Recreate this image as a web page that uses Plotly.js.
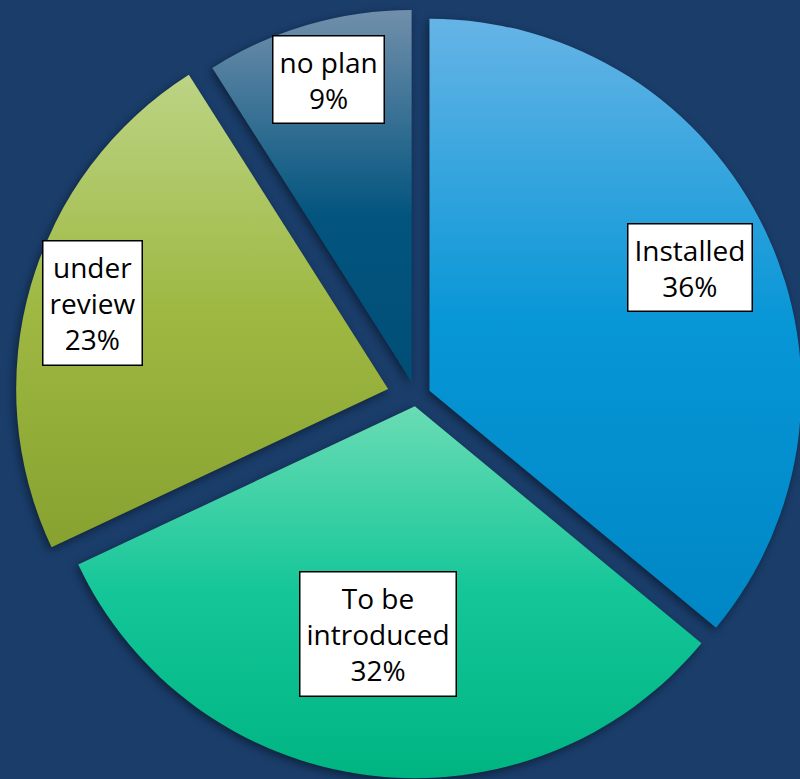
<!DOCTYPE html>
<html><head><meta charset="utf-8">
<script src="https://cdn.plot.ly/plotly-3.0.1.min.js"></script>
<style>
html,body{margin:0;padding:0;background:#1a3d6a;overflow:hidden;width:800px;height:779px;}
#chart{position:absolute;left:0;top:-4px;width:832px;height:802px;}
.annotation-text{font-variant-numeric:oldstyle-nums;}
.slice path.surface{filter:drop-shadow(-2px 3px 4px rgba(0,0,0,0.45));}
</style></head><body><div id="chart"></div>
<script>
// ---- data ----
const labels = ['Installed', 'To be introduced', 'under review', 'no plan'];
const boxLabels = ['Installed', 'To be<br>introduced', 'under<br>review', 'no plan'];
const values = [36, 32, 23, 9];

// ---- styling ----
const pulls = [0.04, 0.025, 0.078, 0.042];
const labelDist = [0.815, 0.646, 0.906, 0.885];
const labelAngleShift = [0, 2, 0, 0.8];
const baseColors = ['#0a96d4', '#1cc898', '#9cb840', '#1f5f86'];
const gradStops = [
  [[0, '#66b4e6'], [0.5, '#0796d6'], [1, '#0086c4']],
  [[0, '#6adcb4'], [0.5, '#14c698'], [1, '#00b482']],
  [[0, '#bcd484'], [0.5, '#9eb842'], [1, '#88a230']],
  [[0, '#718fab'], [0.55, '#03557f'], [1, '#004e76']]
];
const W = 832, H = 802;

const total = values.reduce((a, b) => a + b, 0);
const maxPull = Math.max(...pulls);
const R = Math.min(W, H) / (2 * (1 + maxPull));
const cx = W / 2, cy = H / 2;

let cum = 0;
const annotations = values.map((v, i) => {
  const a0 = cum / total * 2 * Math.PI;
  cum += v;
  const a1 = cum / total * 2 * Math.PI;
  const mid = (a0 + a1) / 2 + labelAngleShift[i] * Math.PI / 180;
  const d = labelDist[i] * R;
  const px = cx + d * Math.sin(mid);
  const py = cy - d * Math.cos(mid);
  return {
    xref: 'paper', yref: 'paper', x: px / W, y: 1 - py / H,
    xanchor: 'center', yanchor: 'middle', showarrow: false,
    text: boxLabels[i] + '<br>' + Math.round(v / total * 100) + '%',
    font: {family: 'Open Sans, sans-serif', size: 28, color: '#000'},
    bgcolor: '#ffffff', bordercolor: '#000000', borderwidth: 1.5, borderpad: 6,
    align: 'center'
  };
});

const trace = {
  type: 'pie', labels: labels, values: values, sort: false,
  direction: 'clockwise', rotation: 0, pull: pulls,
  textinfo: 'none', hoverinfo: 'skip',
  marker: {colors: baseColors, line: {width: 0}},
  domain: {x: [0, 1], y: [0, 1]}
};

const layout = {
  width: W, height: H, margin: {l: 0, r: 0, t: 0, b: 0, pad: 0},
  paper_bgcolor: '#1a3d6a', plot_bgcolor: '#1a3d6a', showlegend: false,
  annotations: annotations
};

Plotly.newPlot('chart', [trace], layout, {staticPlot: true, displayModeBar: false}).then(gd => {
  const svgNS = 'http://www.w3.org/2000/svg';
  const svg = gd.querySelector('svg.main-svg');
  let defs = svg.querySelector('defs');
  if (!defs) { defs = document.createElementNS(svgNS, 'defs'); svg.insertBefore(defs, svg.firstChild); }
  gradStops.forEach((stops, i) => {
    const g = document.createElementNS(svgNS, 'linearGradient');
    g.setAttribute('id', 'sliceGrad' + i);
    g.setAttribute('x1', '0'); g.setAttribute('y1', '0');
    g.setAttribute('x2', '0'); g.setAttribute('y2', '1');
    stops.forEach(s => {
      const st = document.createElementNS(svgNS, 'stop');
      st.setAttribute('offset', s[0]);
      st.setAttribute('stop-color', s[1]);
      g.appendChild(st);
    });
    defs.appendChild(g);
  });
  gd.querySelectorAll('g.slice').forEach((sl, i) => {
    const p = sl.querySelector('path.surface');
    if (p) p.style.fill = 'url(#sliceGrad' + i + ')';
  });
});
</script></body></html>
